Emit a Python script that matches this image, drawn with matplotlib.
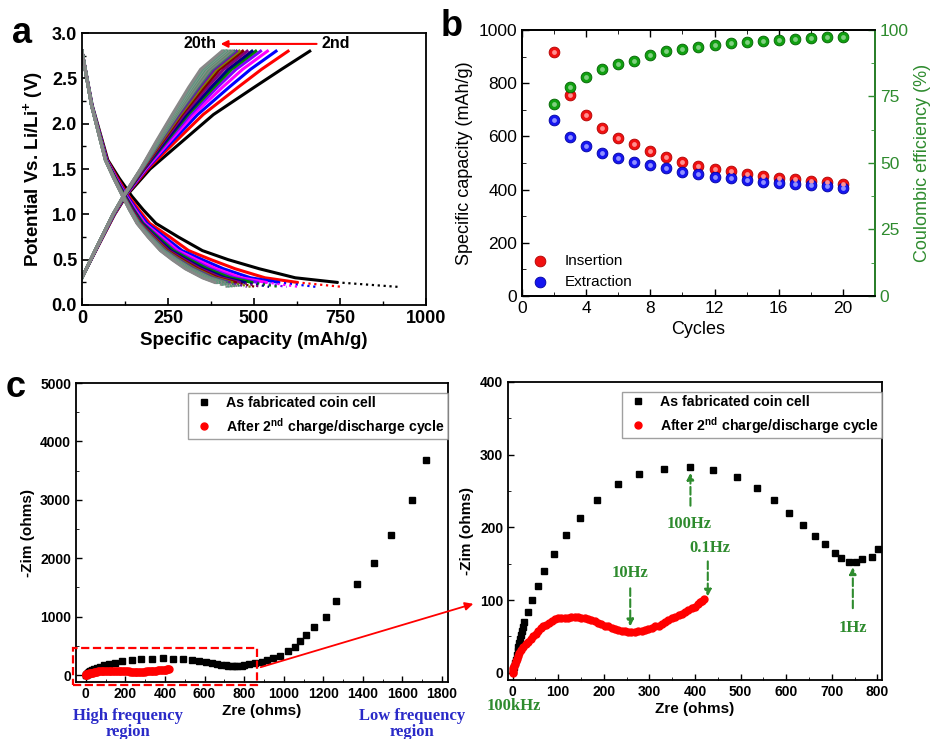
import matplotlib
matplotlib.use('Agg')
import matplotlib.pyplot as plt
from matplotlib.patches import Rectangle, FancyArrowPatch
from matplotlib.ticker import MultipleLocator

plt.rcParams['font.family'] = ['Liberation Sans', 'DejaVu Sans']
plt.rcParams['font.weight'] = 'bold'
plt.rcParams['mathtext.fontset'] = 'custom'
plt.rcParams['mathtext.rm'] = 'Liberation Sans'
plt.rcParams['mathtext.bf'] = 'Liberation Sans:bold'
plt.rcParams['xtick.direction'] = 'in'
plt.rcParams['ytick.direction'] = 'in'
plt.rcParams['axes.linewidth'] = 1.3

# ---- panel a: charge / discharge profiles, cycles 2..20 ----
dis_v = [2.8, 2.2, 1.6, 1.4, 1.2, 1.05, 0.9, 0.75, 0.6, 0.5, 0.4, 0.3, 0.25, 0.2]
dis_cap = [
    [0, 30, 75, 108, 145, 178, 215, 280, 350, 425, 515, 620, 740, 918],
    [0, 29, 73, 103, 136, 165, 197, 255, 310, 375, 445, 532, 624, 756],
    [0, 29, 72, 100, 132, 159, 189, 240, 291, 350, 411, 490, 570, 680],
    [0, 29, 71, 99, 129, 155, 183, 231, 279, 333, 390, 463, 534, 630],
    [0, 29, 70, 98, 127, 152, 179, 224, 271, 321, 374, 444, 509, 595],
    [0, 29, 70, 97, 126, 150, 177, 220, 265, 313, 364, 431, 492, 571],
    [0, 28, 70, 96, 125, 148, 174, 215, 258, 304, 353, 416, 472, 544],
    [0, 28, 69, 95, 123, 146, 171, 211, 252, 297, 343, 404, 456, 521],
    [0, 28, 69, 95, 122, 145, 169, 207, 248, 290, 336, 395, 444, 504],
    [0, 28, 69, 94, 122, 143, 168, 205, 245, 285, 330, 387, 434, 490],
    [0, 28, 69, 94, 121, 143, 166, 203, 242, 281, 325, 381, 426, 479],
    [0, 28, 69, 94, 121, 142, 165, 201, 240, 278, 321, 376, 419, 469],
    [0, 28, 69, 93, 120, 141, 164, 199, 237, 275, 317, 371, 412, 460],
    [0, 28, 68, 93, 120, 140, 163, 197, 235, 272, 313, 366, 406, 451],
    [0, 28, 68, 93, 119, 140, 162, 196, 233, 270, 310, 362, 401, 444],
    [0, 28, 68, 93, 119, 139, 162, 195, 232, 268, 307, 359, 397, 439],
    [0, 28, 68, 92, 119, 139, 161, 194, 230, 266, 304, 355, 392, 432],
    [0, 28, 68, 92, 118, 138, 161, 193, 229, 264, 302, 353, 389, 427],
    [0, 28, 68, 92, 118, 138, 160, 192, 228, 262, 300, 350, 385, 422],
]
chg_v = [0.3, 0.6, 1.0, 1.2, 1.5, 1.8, 2.1, 2.4, 2.6, 2.8]
chg_cap = [
    [0, 40, 95, 128, 198, 290, 382, 500, 580, 662],
    [0, 40, 94, 126, 191, 271, 352, 453, 522, 599],
    [0, 39, 93, 125, 187, 261, 336, 427, 490, 564],
    [0, 39, 93, 124, 185, 254, 324, 408, 467, 539],
    [0, 39, 92, 124, 182, 248, 315, 393, 448, 519],
    [0, 39, 92, 123, 181, 244, 308, 383, 435, 505],
    [0, 39, 92, 123, 180, 241, 303, 375, 425, 494],
    [0, 39, 91, 122, 178, 236, 296, 364, 412, 480],
    [0, 38, 91, 122, 177, 233, 290, 355, 400, 467],
    [0, 38, 91, 122, 175, 230, 286, 347, 391, 457],
    [0, 38, 91, 121, 175, 227, 282, 341, 384, 449],
    [0, 38, 91, 121, 174, 225, 278, 336, 377, 442],
    [0, 38, 91, 121, 173, 224, 276, 332, 372, 436],
    [0, 38, 90, 121, 173, 222, 273, 327, 366, 430],
    [0, 38, 90, 121, 172, 220, 270, 323, 361, 424],
    [0, 38, 90, 120, 171, 219, 268, 320, 357, 420],
    [0, 38, 90, 120, 171, 218, 266, 317, 353, 416],
    [0, 38, 90, 120, 171, 217, 264, 314, 350, 412],
    [0, 38, 90, 120, 170, 215, 262, 310, 345, 407],
]
cycle_colors = ['#000000', '#ff0000', '#0000ff', '#ff00ff', '#8000ff', '#008000',
                '#000080', '#800080', '#800000', '#808000', '#6a0dad', '#3c7a6b',
                '#808080', '#5e8f6e', '#8c8c8c', '#4d9975', '#909090', '#5b9a80',
                '#888888']

# ---- panel b: capacity and coulombic efficiency ----
cycles = list(range(2, 21))
insertion = [918, 756, 680, 630, 595, 571, 544, 521, 504, 490, 479, 469, 460,
             451, 444, 439, 432, 427, 422]
extraction = [662, 599, 564, 539, 519, 505, 494, 480, 467, 457, 449, 442, 436,
              430, 424, 420, 416, 412, 407]
coulombic = [72.1, 78.4, 82.5, 85.3, 87.2, 88.3, 90.6, 92.1, 93.0, 93.7, 94.2,
             95.0, 95.5, 96.0, 96.4, 96.6, 96.9, 97.2, 97.5]

# ---- panel c: Nyquist plots ----
fab_zre = [1, 3, 5, 7, 9, 11, 12, 14, 16, 18, 20, 23, 26, 33, 43, 56, 70, 90,
           117, 147, 185, 232, 278, 333, 390, 440, 492, 535, 574, 607, 637,
           662, 684, 707, 719, 738, 752, 765, 787, 801, 825, 855, 888, 913,
           944, 981, 1023, 1057, 1082, 1112, 1153, 1213, 1264, 1368, 1454,
           1542, 1648, 1721]
fab_zim = [3, 8, 13, 18, 24, 30, 36, 41, 46, 52, 57, 63, 70, 83, 100, 120, 140,
           163, 190, 213, 238, 260, 273, 280, 283, 279, 269, 254, 237, 220, 203,
           188, 177, 165, 158, 153, 152, 156, 159, 170, 185, 205, 230, 260,
           290, 330, 405, 485, 575, 690, 830, 1000, 1260, 1550, 1920, 2390,
           2990, 3680]
cyc_zre = [0, 1, 2, 3, 5, 7, 9, 12, 15, 19, 24, 29, 34, 40, 45, 51, 56, 62, 67,
           74, 80, 86, 92, 100, 107, 115, 122, 129, 136, 144, 151, 158, 166,
           173, 180, 188, 195, 202, 209, 217, 224, 231, 239, 246, 253, 260,
           268, 275, 283, 290, 297, 305, 312, 320, 327, 334, 341, 349, 356,
           364, 371, 378, 385, 393, 400, 406, 411, 416, 420]
cyc_zim = [0, 3, 6, 9, 12, 16, 19, 23, 27, 31, 36, 40, 43, 47, 50, 54, 57, 61,
           64, 66, 68, 71, 74, 75, 75, 76, 76, 77, 77, 77, 76, 75, 74, 72, 71,
           69, 67, 65, 64, 62, 60, 59, 58, 57, 56, 56, 56, 57, 58, 59, 60, 62,
           64, 65, 67, 70, 72, 75, 77, 79, 81, 84, 86, 89, 91, 94, 97, 99, 101]

green = '#2e8b2e'
blue_txt = '#2a2ac8'

fig = plt.figure(figsize=(9.52, 7.39), dpi=100)
axa = fig.add_axes([0.0861, 0.5873, 0.3614, 0.368])
axb = fig.add_axes([0.5483, 0.5995, 0.3708, 0.3599])
axc1 = fig.add_axes([0.0798, 0.0771, 0.3908, 0.4046])
axc2 = fig.add_axes([0.5336, 0.0798, 0.3929, 0.4033])

# panel a
for d, c, col in zip(dis_cap, chg_cap, cycle_colors):
    axa.plot(d[:13], dis_v[:13], color=col, lw=2.2)
    axa.plot(d[12:], dis_v[12:], color=col, lw=1.6, ls=':')
    axa.plot(c, chg_v, color=col, lw=2.2)
axa.set_xlim(0, 1000)
axa.set_ylim(0, 3.0)
axa.xaxis.set_major_locator(MultipleLocator(250))
axa.xaxis.set_minor_locator(MultipleLocator(125))
axa.yaxis.set_major_locator(MultipleLocator(0.5))
axa.yaxis.set_minor_locator(MultipleLocator(0.25))
axa.tick_params(labelsize=13, length=5, width=1.2)
axa.tick_params(which='minor', length=3, width=1.0)
axa.set_xlabel('Specific capacity (mAh/g)', fontsize=13.5, fontweight='bold')
axa.set_ylabel(r'Potential Vs. Li/Li$^{\mathbf{+}}$ (V)', fontsize=13.5,
               fontweight='bold')
axa.annotate('', xy=(395, 2.88), xytext=(690, 2.88),
             arrowprops=dict(arrowstyle='-|>', color='red', lw=1.5,
                             mutation_scale=10))
axa.text(392, 2.88, '20th', ha='right', va='center', fontsize=11.5)
axa.text(697, 2.88, '2nd', ha='left', va='center', fontsize=11.5)

# panel b
h1 = axb.scatter(cycles, insertion, s=60, color='#f01010', edgecolors='#b00000',
                 linewidths=0.6, zorder=3, label='Insertion')
h2 = axb.scatter(cycles, extraction, s=60, color='#1515f0', edgecolors='#0000a0',
                 linewidths=0.6, zorder=3, label='Extraction')
axb.scatter(cycles, insertion, s=12, color='#ff9090', zorder=4, linewidths=0)
axb.scatter(cycles, extraction, s=12, color='#9090ff', zorder=4, linewidths=0)
axb.set_xlim(0, 22)
axb.set_ylim(0, 1000)
axb.xaxis.set_major_locator(MultipleLocator(4))
axb.xaxis.set_minor_locator(MultipleLocator(2))
axb.yaxis.set_major_locator(MultipleLocator(200))
axb.yaxis.set_minor_locator(MultipleLocator(100))
axb.tick_params(labelsize=12.5, length=5, width=1.0, top=True)
axb.tick_params(which='minor', length=3, top=True)
axb.set_xlabel('Cycles', fontsize=13, fontweight='normal')
axb.set_ylabel('Specific capacity (mAh/g)', fontsize=13, fontweight='normal')
axb2 = axb.twinx()
axb2.scatter(cycles, coulombic, s=60, color='#10a010', edgecolors='#006000',
             linewidths=0.6, zorder=3)
axb2.scatter(cycles, coulombic, s=12, color='#80d080', zorder=4, linewidths=0)
axb2.set_ylim(0, 100)
axb2.yaxis.set_major_locator(MultipleLocator(25))
axb2.yaxis.set_minor_locator(MultipleLocator(12.5))
axb2.tick_params(labelsize=12.5, length=5, width=1.0, colors=green)
axb2.tick_params(which='minor', length=3, colors=green)
axb2.spines['right'].set_color(green)
axb2.set_ylabel('Coulombic efficiency (%)', fontsize=13, fontweight='normal',
                color=green)
for lbl in axb.get_xticklabels() + axb.get_yticklabels() + axb2.get_yticklabels():
    lbl.set_fontweight('normal')
axb.legend(handles=[h1, h2], loc='lower left', frameon=False,
           prop={'size': 11, 'weight': 'normal'}, handletextpad=0.6,
           labelspacing=0.45, bbox_to_anchor=(-0.03, -0.025))

# panel c
for ax in (axc1, axc2):
    ax.plot(fab_zre, fab_zim, 's', color='black', ms=4.2, ls='none',
            label='As fabricated coin cell')
    ax.plot(cyc_zre, cyc_zim, 'o', color='red', ms=5, ls='none',
            label=r'After 2$^{\mathbf{nd}}$ charge/discharge cycle')
    ax.tick_params(labelsize=10, length=4, width=1.0)
    ax.tick_params(which='minor', length=2.5)
    ax.set_xlabel('Zre (ohms)', fontsize=11, fontweight='bold', labelpad=2)
    ax.set_ylabel('-Zim (ohms)', fontsize=11, fontweight='bold')
    leg = ax.legend(loc='upper right', bbox_to_anchor=(1.0, 0.965),
                    borderaxespad=0, fancybox=False, edgecolor='#888888',
                    prop={'size': 10.2, 'weight': 'bold'}, handletextpad=0.7,
                    borderpad=0.2, labelspacing=0.38, handlelength=1.8)
    leg.get_frame().set_linewidth(1.0)

axc1.set_xlim(-50, 1830)
axc1.set_ylim(-120, 5000)
axc1.xaxis.set_major_locator(MultipleLocator(200))
axc1.xaxis.set_minor_locator(MultipleLocator(100))
axc1.yaxis.set_major_locator(MultipleLocator(1000))
axc1.yaxis.set_minor_locator(MultipleLocator(500))
axc1.add_patch(Rectangle((-67, -171), 934, 640, fill=False, ls='--',
                         ec='red', lw=1.6, clip_on=False, zorder=5))

axc2.set_xlim(-10, 810)
axc2.set_ylim(-10, 400)
axc2.xaxis.set_major_locator(MultipleLocator(100))
axc2.xaxis.set_minor_locator(MultipleLocator(50))
axc2.yaxis.set_major_locator(MultipleLocator(100))
axc2.yaxis.set_minor_locator(MultipleLocator(50))

serif_bold = dict(family=['Liberation Serif', 'DejaVu Serif'], weight='bold')
gp = dict(arrowstyle='-|>', color=green, lw=1.5, ls='--', mutation_scale=10)
axc2.annotate('', xy=(390, 279), xytext=(390, 226), arrowprops=gp)
axc2.text(388, 205, '100Hz', ha='center', va='center', color=green,
          fontsize=12, **serif_bold)
axc2.annotate('', xy=(258, 60), xytext=(258, 120), arrowprops=gp)
axc2.text(258, 137, '10Hz', ha='center', va='center', color=green,
          fontsize=12, **serif_bold)
axc2.annotate('', xy=(428, 101), xytext=(428, 157), arrowprops=gp)
axc2.text(432, 172, '0.1Hz', ha='center', va='center', color=green,
          fontsize=12, **serif_bold)
axc2.annotate('', xy=(746, 149), xytext=(746, 85), arrowprops=gp)
axc2.text(746, 61, '1Hz', ha='center', va='center', color=green,
          fontsize=12, **serif_bold)
axc2.text(3, -46, '100kHz', ha='center', va='center', color=green,
          fontsize=12, clip_on=False, **serif_bold)

# arrow linking zoom box to the right panel
fig.add_artist(FancyArrowPatch((258 / 952, 1 - 668 / 739),
                               (476 / 952, 1 - 603 / 739),
                               transform=fig.transFigure, arrowstyle='-|>',
                               mutation_scale=12, color='red', lw=1.3))

fig.text(128 / 952, 1 - 724 / 739, 'High frequency\nregion', ha='center',
         va='center', color=blue_txt, fontsize=12, linespacing=0.95,
         **serif_bold)
fig.text(412 / 952, 1 - 724 / 739, 'Low frequency\nregion', ha='center',
         va='center', color=blue_txt, fontsize=12, linespacing=0.95,
         **serif_bold)

fig.text(12 / 952, 1 - 43 / 739, 'a', fontsize=26, fontweight='bold',
         va='baseline')
fig.text(441 / 952, 1 - 36 / 739, 'b', fontsize=26, fontweight='bold',
         va='baseline')
fig.text(6 / 952, 1 - 397 / 739, 'c', fontsize=26, fontweight='bold',
         va='baseline')

fig.savefig('out.png', dpi=100)
